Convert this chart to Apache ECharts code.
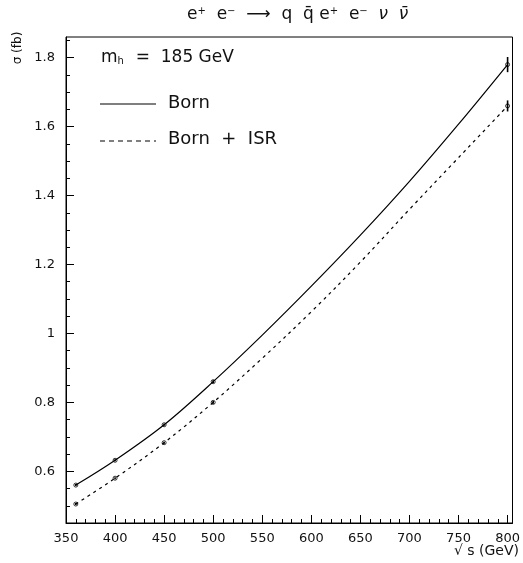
<!DOCTYPE html>
<html>
<head>
<meta charset="utf-8">
<script src="https://cdn.jsdelivr.net/npm/echarts@6/dist/echarts.min.js"></script>
<style>html,body{margin:0;padding:0;background:#fff;}#c{width:523px;height:563px;}</style>
</head>
<body>
<div id="c"></div>
<script>
// ---- data ----
var curveX = [360, 400, 450, 500, 550, 600, 650, 700, 750, 800];
var bornCurve = [0.560, 0.632, 0.735, 0.860, 0.995, 1.137, 1.285, 1.441, 1.607, 1.780];
var isrCurve  = [0.505, 0.580, 0.683, 0.800, 0.928, 1.063, 1.207, 1.360, 1.510, 1.660];
var pointX = [360, 400, 450, 500, 800];
var bornPoints = [0.560, 0.632, 0.735, 0.860, 1.780];
var isrPoints  = [0.505, 0.580, 0.683, 0.800, 1.660];
var bornErr = [0.003, 0.003, 0.003, 0.004, 0.022];
var isrErr  = [0.003, 0.003, 0.003, 0.004, 0.016];
var xLabels = [350, 400, 450, 500, 550, 600, 650, 700, 750, 800];
var xMinor = [];
for (var v = 350; v <= 800; v += 10) xMinor.push(v);
var yLabels = [0.6, 0.8, 1.0, 1.2, 1.4, 1.6, 1.8];
var yMinor = [0.45, 0.5, 0.55, 0.6, 0.65, 0.7, 0.75, 0.8, 0.85, 0.9, 0.95, 1.0, 1.05, 1.1, 1.15, 1.2, 1.25, 1.3, 1.35, 1.4, 1.45, 1.5, 1.55, 1.6, 1.65, 1.7, 1.75, 1.8, 1.85];

function zip(a, b) { return a.map(function (x, i) { return [x, b[i]]; }); }

var FONT = '"DejaVu Sans", "Liberation Sans", sans-serif';
var chart = echarts.init(document.getElementById('c'), null, {renderer: 'canvas'});

function errSeries(vals, errs) {
  return {
    type: 'custom',
    data: pointX.map(function (x, i) { return [x, vals[i] - errs[i], vals[i] + errs[i]]; }),
    encode: {x: 0, y: [1, 2]},
    clip: false,
    renderItem: function (params, api) {
      var lo = api.coord([api.value(0), api.value(1)]);
      var hi = api.coord([api.value(0), api.value(2)]);
      return {type: 'line', shape: {x1: lo[0], y1: lo[1], x2: hi[0], y2: hi[1]},
              style: {stroke: '#000', lineWidth: 1.6}};
    },
    silent: true, z: 6
  };
}

var xMin = 350, xMax = 805, yMin = 0.45, yMax = 1.86;

chart.setOption({
  animation: false,
  backgroundColor: '#fff',
  grid: {left: 66, right: 8, top: 37, bottom: 40, show: true, borderColor: '#000', borderWidth: 1, backgroundColor: 'transparent'},
  xAxis: [{
    type: 'value', min: xMin, max: xMax, position: 'bottom',
    axisLine: {show: true, lineStyle: {color: '#000', width: 1}},
    axisTick: {show: true, inside: true, length: 8, customValues: xLabels, lineStyle: {color: '#000'}},
    axisLabel: {customValues: xLabels, color: '#111', fontSize: 13, fontFamily: FONT, margin: 9},
    splitLine: {show: false}
  }, {
    type: 'value', min: xMin, max: xMax, position: 'bottom', gridIndex: 0,
    axisLine: {show: false},
    axisTick: {show: true, inside: true, length: 4, customValues: xMinor, lineStyle: {color: '#000'}},
    axisLabel: {show: false},
    splitLine: {show: false}
  }],
  yAxis: [{
    type: 'value', min: yMin, max: yMax, position: 'left',
    axisLine: {show: true, lineStyle: {color: '#000', width: 1}},
    axisTick: {show: true, inside: true, length: 8, customValues: yLabels, lineStyle: {color: '#000'}},
    axisLabel: {customValues: yLabels, color: '#111', fontSize: 13, fontFamily: FONT, margin: 11,
      formatter: function (v) { return (Math.round(v * 10) / 10).toString(); }},
    splitLine: {show: false}
  }, {
    type: 'value', min: yMin, max: yMax, position: 'left',
    axisLine: {show: false},
    axisTick: {show: true, inside: true, length: 4, customValues: yMinor, lineStyle: {color: '#000'}},
    axisLabel: {show: false},
    splitLine: {show: false}
  }],
  series: [
    {type: 'line', name: 'Born', data: zip(curveX, bornCurve), smooth: 0.35, symbol: 'none',
     lineStyle: {color: '#000', width: 1.2}, z: 3},
    {type: 'line', name: 'Born + ISR', data: zip(curveX, isrCurve), smooth: 0.35, symbol: 'none',
     lineStyle: {color: '#000', width: 1.2, type: [3, 4]}, z: 3},
    {type: 'scatter', data: zip(pointX, bornPoints), symbol: 'circle', symbolSize: 4,
     itemStyle: {color: 'rgba(255,255,255,0)', borderColor: '#000', borderWidth: 1}, z: 5},
    {type: 'scatter', data: zip(pointX, isrPoints), symbol: 'circle', symbolSize: 4,
     itemStyle: {color: 'rgba(255,255,255,0)', borderColor: '#000', borderWidth: 1}, z: 5},
    errSeries(bornPoints, bornErr),
    errSeries(isrPoints, isrErr)
  ],
  graphic: [
    {type: 'text', x: 187, y: 6, z: 10,
     style: {text: 'e{sup|+}  e{sup|\u2212}  \u27F6  q  q\u0304 e{sup|+}  e{sup|\u2212}  {it|\u03BD}  {it|\u03BD\u0304}',
       fill: '#111', font: '17px ' + FONT,
       rich: {sup: {fontSize: 10, verticalAlign: 'top', padding: [0, 0, 8, 0], fontFamily: FONT, fill: '#111'},
              it: {fontSize: 17, fontStyle: 'italic', fontFamily: FONT, fill: '#111'}}}},
    {type: 'text', x: 101, y: 49, z: 10,
     style: {text: 'm{sub|h}  =  185 GeV', fill: '#111', font: '17px ' + FONT,
       rich: {sub: {fontSize: 10, verticalAlign: 'bottom', padding: [7, 1, 0, 0], fontFamily: FONT, fill: '#111'}}}},
    {type: 'line', shape: {x1: 100, y1: 104, x2: 156, y2: 104}, style: {stroke: '#000', lineWidth: 1.2}, z: 10},
    {type: 'text', x: 168, y: 94, z: 10, style: {text: 'Born', fill: '#111', font: '18px ' + FONT}},
    {type: 'line', shape: {x1: 100, y1: 141, x2: 156, y2: 141}, style: {stroke: '#000', lineWidth: 1.2, lineDash: [5, 4]}, z: 10},
    {type: 'text', x: 168, y: 130, z: 10, style: {text: 'Born  +  ISR', fill: '#111', font: '18px ' + FONT}},
    {type: 'text', x: 18, y: 48, rotation: Math.PI / 2, z: 10,
     style: {text: '\u03C3 (fb)', fill: '#111', font: '12px ' + FONT, align: 'center', verticalAlign: 'middle'}},
    {type: 'text', right: 4, top: 544, z: 10,
     style: {text: '\u221A s (GeV)', fill: '#111', font: '14px ' + FONT}}
  ]
});
</script>
</body>
</html>
